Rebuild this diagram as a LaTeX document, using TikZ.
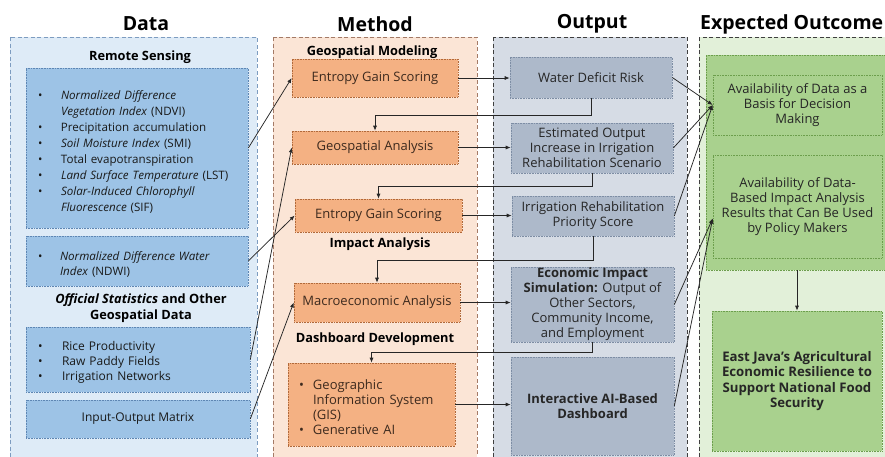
\documentclass[tikz,border=0pt]{standalone}
\usepackage{fontspec}
\setmainfont{Open Sans}
\usetikzlibrary{arrows.meta}
\definecolor{dataBg}{HTML}{DEEBF7}
\definecolor{dataBox}{HTML}{9DC3E6}
\definecolor{dataFrame}{HTML}{7D9CC0}
\definecolor{dataLine}{HTML}{5E86B3}
\definecolor{methBg}{HTML}{FBE5D6}
\definecolor{methBox}{HTML}{F4B183}
\definecolor{methFrame}{HTML}{A47A66}
\definecolor{methLine}{HTML}{B0693A}
\definecolor{methText}{HTML}{3D2A1E}
\definecolor{outBg}{HTML}{D6DCE5}
\definecolor{outBox}{HTML}{ADB9CA}
\definecolor{outLine}{HTML}{7D8DA4}
\definecolor{expBg}{HTML}{E2F0D9}
\definecolor{expBox}{HTML}{A9D18E}
\definecolor{expLine}{HTML}{6C9E4C}
\definecolor{frameDark}{HTML}{3F3F3F}
% #1 hang indent, #2 bullet shift, #3 text
\newcommand{\bul}[3]{\par\noindent\hangindent=#1\hangafter=1\makebox[#1][l]{\hspace{#2}\textbullet}#3\par}
\begin{document}
\begin{tikzpicture}[x=1pt,y=-1pt,
  title/.style={font=\fontsize{19.5}{23}\selectfont\bfseries, inner sep=0pt},
  sect/.style={font=\fontsize{12.8}{16}\selectfont\bfseries, inner sep=0pt, align=center},
  frame/.style={dashed, dash pattern=on 4pt off 2.5pt, line width=0.7pt},
  bx/.style={densely dotted, line width=0.6pt, inner sep=0pt, align=center,
     font=\fontsize{13}{15}\selectfont},
  dbox/.style={bx, fill=dataBox, draw=dataLine, text=black!90},
  mbox/.style={bx, fill=methBox, draw=methLine, text=methText},
  obox/.style={bx, fill=outBox, draw=outLine, text=black!85},
  ebox/.style={bx, fill=expBox, draw=expLine, text=black!85},
  arr/.style={-{Latex[length=5pt,width=4pt]}, line width=0.75pt, draw=black!85},
]
\useasboundingbox (0,0) rectangle (885,456);
% column frames
\path[frame, fill=dataBg, draw=dataFrame] (10,37) rectangle (257,462);
\path[frame, fill=methBg, draw=methFrame] (273,37) rectangle (477,462);
\path[frame, fill=outBg, draw=frameDark] (493,37) rectangle (687,462);
\path[frame, fill=expBg, draw=frameDark] (699,37) rectangle (892,462);
% titles
\node[title] (tdata) at (146,24) {Data};
\node[title] (tmeth) at (375,24) {Method};
\node[title] (tout) at (592,24) {Output};
\node[title, anchor=west] (texp) at (700,24) {Expected Outcome};
% data column
\node[sect] (lrs) at (140,57) {Remote Sensing};
\node[dbox, minimum width=222pt, minimum height=160pt, text width=216pt, align=left,
  font=\fontsize{11.6}{16}\selectfont] (d1) at (137,148) {%
  \bul{32pt}{9pt}{\textit{Normalized Difference}\newline\textit{Vegetation Index} (NDVI)}
  \bul{32pt}{9pt}{Precipitation accumulation}
  \bul{32pt}{9pt}{\textit{Soil Moisture Index} (SMI)}
  \bul{32pt}{9pt}{Total evapotranspiration}
  \bul{32pt}{9pt}{\textit{Land Surface Temperature} (LST)}
  \bul{32pt}{9pt}{\textit{Solar-Induced Chlorophyll}\newline\textit{Fluorescence} (SIF)}};
\node[dbox, minimum width=222pt, minimum height=50pt, text width=216pt, align=left,
  font=\fontsize{11.6}{15}\selectfont] (d2) at (137,261) {%
  \bul{31pt}{9pt}{\textit{Normalized Difference Water}\newline\textit{Index} (NDWI)}};
\node[sect] (los) at (141,308) {\textbf{\textit{Official Statistics}} and Other\\Geospatial Data};
\node[dbox, minimum width=224pt, minimum height=65pt, text width=216pt, align=left,
  font=\fontsize{12}{15}\selectfont] (d3) at (138,359.5) {%
  \bul{32pt}{8pt}{Rice Productivity}
  \bul{32pt}{8pt}{Raw Paddy Fields}
  \bul{32pt}{8pt}{Irrigation Networks}};
\node[dbox, minimum width=224pt, minimum height=38pt, font=\fontsize{12}{15}\selectfont] (d4) at (138,419) {Input-Output Matrix};
% method column
\node[sect] (lgm) at (372,52) {Geospatial Modeling};
\node[mbox, minimum width=166pt, minimum height=38pt] (m1) at (375,78) {Entropy Gain Scoring};
\node[mbox, minimum width=166pt, minimum height=33pt] (m2) at (375,147.5) {Geospatial Analysis};
\node[mbox, minimum width=167pt, minimum height=33pt] (m3) at (378.5,215.5) {Entropy Gain Scoring};
\node[sect] (lia) at (380,244) {Impact Analysis};
\node[mbox, minimum width=166pt, minimum height=39pt] (m4) at (377,302.5) {Macroeconomic Analysis};
\node[sect] (ldd) at (375,339) {Dashboard Development};
\node[mbox, minimum width=167pt, minimum height=83pt, text width=145pt, align=left] (m5) at (371.5,404.5) {%
  \bul{14pt}{0pt}{Geographic\newline Information System\newline (GIS)}
  \bul{14pt}{0pt}{Generative AI}};
% output column
\node[obox, minimum width=162pt, minimum height=41pt] (o1) at (591,77.5) {Water Deficit Risk};
\node[obox, minimum width=162pt, minimum height=50pt] (o2) at (592,148) {Estimated Output\\Increase in Irrigation\\Rehabilitation Scenario};
\node[obox, minimum width=162pt, minimum height=40pt] (o3) at (593,216) {Irrigation Rehabilitation\\Priority Score};
\node[obox, minimum width=163pt, minimum height=75pt] (o4) at (592.5,304.5) {\textbf{Economic Impact}\\\textbf{Simulation:} Output of\\Other Sectors,\\Community Income,\\and Employment};
\node[obox, minimum width=163pt, minimum height=98pt, font=\fontsize{13}{15}\selectfont\bfseries] (o5) at (592.5,406) {Interactive AI-Based\\Dashboard};
% expected outcome column
\node[ebox, minimum width=184pt, minimum height=215pt] (eo) at (798,162.5) {};
\node[ebox, minimum width=169pt, minimum height=60pt] (e1) at (797.5,105) {Availability of Data as a\\Basis for Decision\\Making};
\node[ebox, minimum width=169pt, minimum height=103pt] (e2) at (797.5,206.5) {Availability of Data-\\Based Impact Analysis\\Results that Can Be Used\\by Policy Makers};
\node[ebox, minimum width=170pt, minimum height=140pt, font=\fontsize{13.2}{15.5}\selectfont\bfseries] (e3) at (797,381) {East Java's Agricultural\\Economic Resilience to\\Support National Food\\Security};
% data -> method
\draw[arr] (d1.east) -- (m1.west);
\draw[arr] (d2.east) -- (m3.west);
\draw[arr] (d3.east) -- (m2.west);
\draw[arr] (d4.east) -- (m4.west);
% method -> output
\draw[arr] (m1.east) -- (m1.east -| o1.west);
\draw[arr] (m2.east) -- (m2.east -| o2.west);
\draw[arr] (m3.east) -- (m3.east -| o3.west);
\draw[arr] (m4.east) -- (m4.east -| o4.west);
\draw[arr] (m5.east) -- (m5.east -| o5.west);
% output -> method feedback
\draw[arr] (o1.south) -- ++(0,17) -| (m2.north);
\draw[arr] (o2.south) -- ++(0,13) -| (m3.north);
\draw[arr] (o3.south) -- ++(0,24) -| (m4.north);
\draw[arr] (o4.south) -- ++(0,10) -| (m5.north);
% output -> expected
\draw[arr] (o1.east) -- (e1.west);
\draw[arr] (o2.east) -- (e1.west);
\draw[arr] (o3.east) -- (e1.west);
\draw[arr] (o4.east) -- ([yshift=-12pt]e2.west);
\draw[arr] (o5.east) -- ([yshift=-12pt]e2.west);
% expected -> final
\draw[arr] (e3.north |- eo.south) -- (e3.north);
\end{tikzpicture}
\end{document}
